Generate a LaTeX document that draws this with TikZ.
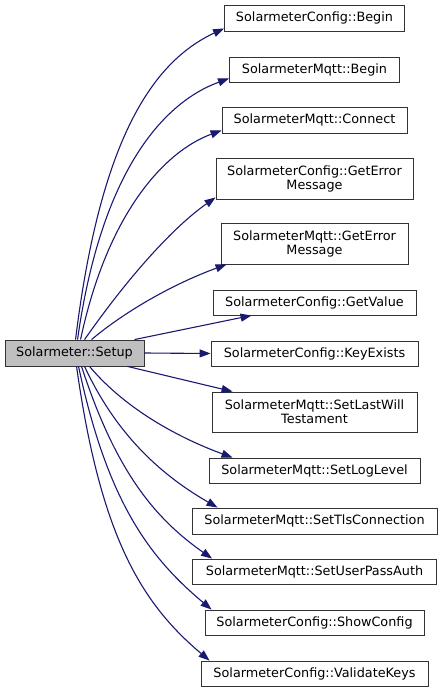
\documentclass[tikz,border=0pt]{standalone}
\usepackage{fontspec}
\setmainfont{DejaVu Sans}
\usetikzlibrary{arrows.meta,calc}
\definecolor{edgeblue}{HTML}{191970}

\begin{document}
\begin{tikzpicture}[x=1pt,y=1pt,
  fn/.style={
    draw=black!80, line width=0.9pt, fill=white, inner sep=0pt,
    font=\fontsize{12.8}{14}\selectfont, align=center
  },
  root/.style={fn,fill=black!25},
  call/.style={draw=edgeblue,line width=1.1pt,-{Triangle[length=11pt,width=8pt]}},
]
\useasboundingbox (0,0) rectangle (443,-692);
% caller
\node[root,minimum width=139,minimum height=26] (setup) at (74.5,-353) {Solarmeter::Setup};
% callees, top to bottom
\foreach \n/\y/\w/\h/\t in {
  cbegin/18/180/26/{SolarmeterConfig::Begin},
  mbegin/69.5/170/25/{SolarmeterMqtt::Begin},
  mconn/120/185/26/{SolarmeterMqtt::Connect},
  cerr/178.5/197/41/{SolarmeterConfig::GetError\\Message},
  merr/243.5/187/41/{SolarmeterMqtt::GetError\\Message},
  cval/302.5/203/25/{SolarmeterConfig::GetValue},
  ckey/353.5/207/25/{SolarmeterConfig::KeyExists},
  mwill/412/205/40/{SolarmeterMqtt::SetLastWill\\Testament},
  mlog/470.5/211/25/{SolarmeterMqtt::SetLogLevel},
  mtls/521/245/26/{SolarmeterMqtt::SetTlsConnection},
  mauth/571.5/244/25/{SolarmeterMqtt::SetUserPassAuth},
  cshow/622.5/219/25/{SolarmeterConfig::ShowConfig},
  ckeys/673.5/227/25/{SolarmeterConfig::ValidateKeys}}{
  \node[fn,minimum width=\w,minimum height=\h] (\n) at (314.5,-\y) {\t};
}
% calls
\draw[call] ($(setup.north west)+(71,0)$) .. controls +(83:200) and +(205:80) .. ($(cbegin.south west)+(0,3)$);
\draw[call] ($(setup.north west)+(73,0)$) .. controls +(82:170) and +(200:70) .. ($(mbegin.south west)+(0,4)$);
\draw[call] ($(setup.north west)+(76,0)$) .. controls +(78:130) and +(200:60) .. ($(mconn.south west)+(0,3)$);
\draw[call] ($(setup.north west)+(80,0)$) .. controls +(55:80) and +(215:50) .. ($(cerr.south west)+(0,2)$);
\draw[call] ($(setup.north west)+(87,0)$) .. controls +(40:50) and +(200:50) .. ($(merr.south west)+(6,0)$);
\draw[call] ($(setup.north west)+(130,0)$) -- ($(cval.south west)+(39,0)$);
\draw[call] (setup.east) -- (ckey.west);
\draw[call] ($(setup.south west)+(123,0)$) -- ($(mwill.north west)+(21,0)$);
\draw[call] ($(setup.south west)+(85,0)$) .. controls +(-50:60) and +(160:50) .. ($(mlog.north west)+(24,0)$);
\draw[call] ($(setup.south west)+(80,0)$) .. controls +(-65:80) and +(150:60) .. ($(mtls.north west)+(26,0)$);
\draw[call] ($(setup.south west)+(77,0)$) .. controls +(-72:110) and +(145:70) .. ($(mauth.north west)+(20,0)$);
\draw[call] ($(setup.south west)+(74,0)$) .. controls +(-78:140) and +(140:80) .. ($(cshow.north west)+(7,0)$);
\draw[call] ($(setup.south west)+(72,0)$) .. controls +(-82:170) and +(140:90) .. ($(ckeys.north west)+(9,0)$);
\end{tikzpicture}
\end{document}
